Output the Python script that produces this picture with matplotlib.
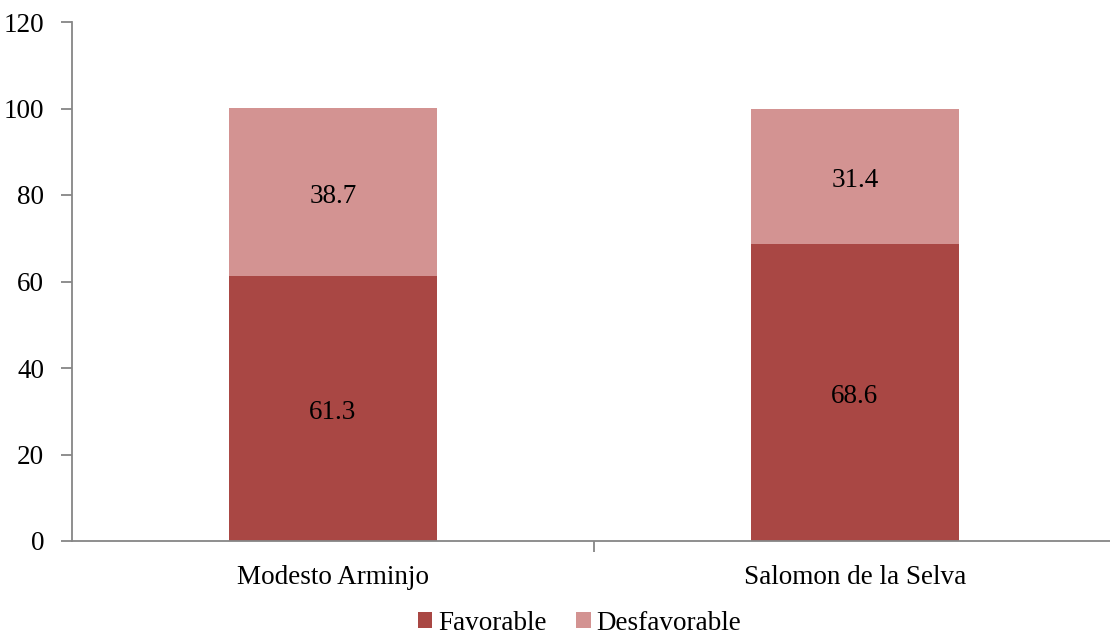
import numpy as np
import matplotlib.pyplot as plt

plt.rcParams['font.family'] = ['Liberation Serif', 'DejaVu Serif']

categories = ['Modesto Arminjo', 'Salomon de la Selva']
favorable = [61.3, 68.6]
desfavorable = [38.7, 31.4]

fs = 19.5
fig = plt.figure(figsize=(11.1, 6.37), dpi=100)
ax = fig.add_axes([72/1110, 1-541/637, (1116-72)/1110, (541-22)/637])

x = np.arange(len(categories))
w = 0.4
b1 = ax.bar(x, favorable, w, color='#A94744', label='Favorable')
b2 = ax.bar(x, desfavorable, w, bottom=favorable, color='#D39392', label='Desfavorable')

for xi, f, d in zip(x, favorable, desfavorable):
    ax.text(xi, f/2 - 0.9, f'{f:.1f}', ha='center', va='center', fontsize=fs)
    ax.text(xi, f + d/2 - 0.9, f'{d:.1f}', ha='center', va='center', fontsize=fs)

ax.set_xlim(-0.5, 1.5)
ax.set_ylim(0, 120)
ax.set_yticks(range(0, 121, 20))
ax.set_xticks(x)
ax.set_xticklabels(categories)
ax.set_xticks([0.5], minor=True)
ax.tick_params(axis='x', which='major', length=0, pad=17, labelsize=fs)
ax.tick_params(axis='x', which='minor', length=8, color='#868686', width=1.3)
ax.tick_params(axis='y', length=8, color='#868686', width=1.3, labelsize=fs, pad=12)
for s in ['top', 'right']:
    ax.spines[s].set_visible(False)
for s in ['left', 'bottom']:
    ax.spines[s].set_color('#868686')
    ax.spines[s].set_linewidth(1.3)

fig.legend(handles=[b1, b2], loc='lower center', bbox_to_anchor=(0.522, -0.036), ncol=2,
           frameon=False, fontsize=fs, handlelength=0.55, handleheight=0.55,
           handletextpad=0.2, columnspacing=1.1)

fig.savefig('out.png', dpi=100)
